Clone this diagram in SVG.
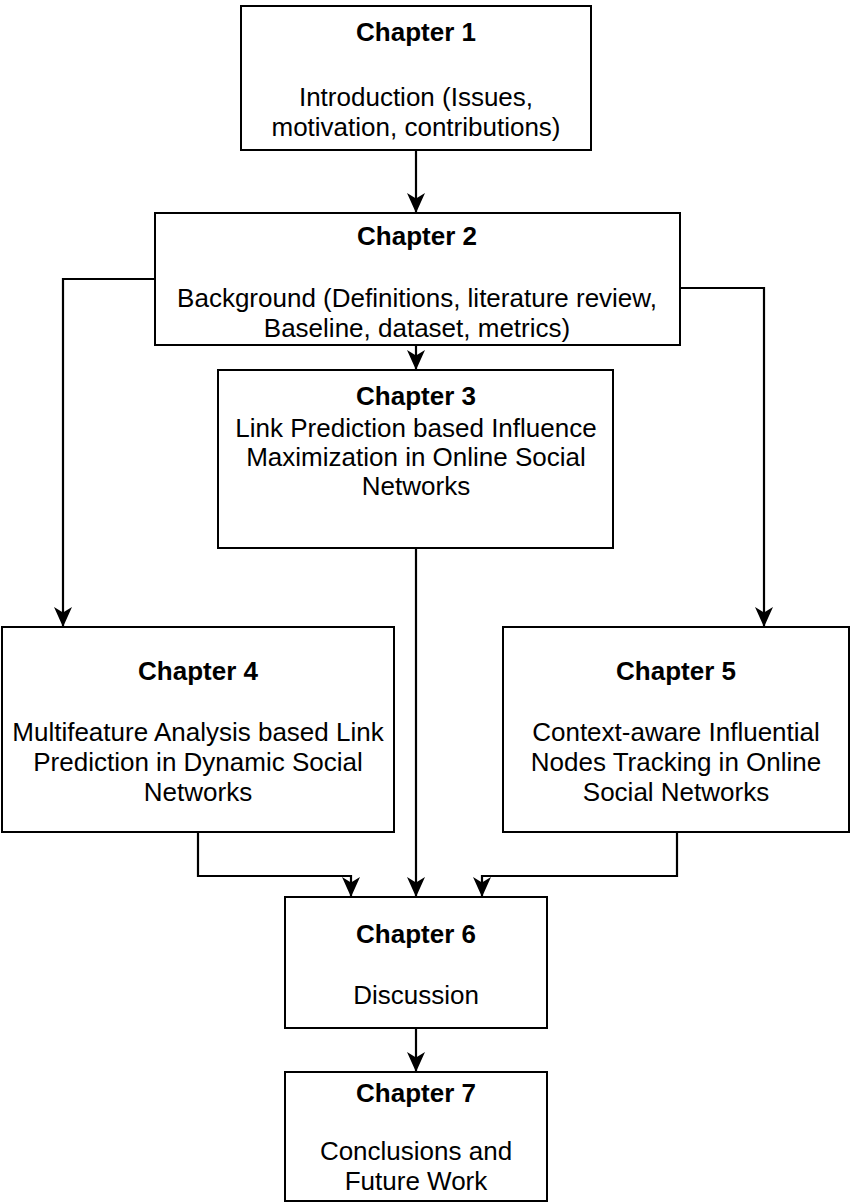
<svg xmlns="http://www.w3.org/2000/svg" width="850" height="1203" viewBox="0 0 850 1203">
<style>
.box{fill:#fff;stroke:#000;stroke-width:2}
.t{font-family:"Liberation Sans",Arial,sans-serif;font-size:26px;text-anchor:middle;fill:#000}
.b{font-weight:bold}
.c{fill:none;stroke:#000;stroke-width:2.2}
</style>
<defs>
<marker id="ah" markerUnits="userSpaceOnUse" markerWidth="20" markerHeight="20" viewBox="0 0 20 20" refX="20" refY="10" orient="auto">
<path d="M0,1 L20,10 L0,19 L5.5,10 z" fill="#000"/>
</marker>
</defs>
<rect width="850" height="1203" fill="#fff"/>
<g id="connectors">
<path class="c" d="M416,150 V213" marker-end="url(#ah)"/>
<path class="c" d="M416,345 V370" marker-end="url(#ah)"/>
<path class="c" d="M155,279 H63 V627" marker-end="url(#ah)"/>
<path class="c" d="M680,288 H764 V627" marker-end="url(#ah)"/>
<path class="c" d="M416,548 V897" marker-end="url(#ah)"/>
<path class="c" d="M198,832 V876 H351 V897" marker-end="url(#ah)"/>
<path class="c" d="M677,832 V876 H482 V897" marker-end="url(#ah)"/>
<path class="c" d="M416,1028 V1072" marker-end="url(#ah)"/>
</g>
<g id="ch1">
<rect class="box" x="241" y="6" width="350" height="144"/>
<text class="t b" x="416" y="41">Chapter 1</text>
<text class="t" x="416" y="106">Introduction (Issues,</text>
<text class="t" x="416" y="136">motivation, contributions)</text>
</g>
<g id="ch2">
<rect class="box" x="155" y="213" width="525" height="132"/>
<text class="t b" x="417" y="245">Chapter 2</text>
<text class="t" x="417" y="307">Background (Definitions, literature review,</text>
<text class="t" x="417" y="337">Baseline, dataset, metrics)</text>
</g>
<g id="ch3">
<rect class="box" x="218" y="370" width="395" height="178"/>
<text class="t b" x="416" y="405">Chapter 3</text>
<text class="t" x="416" y="437">Link Prediction based Influence</text>
<text class="t" x="416" y="466">Maximization in Online Social</text>
<text class="t" x="416" y="495">Networks</text>
</g>
<g id="ch4">
<rect class="box" x="2" y="627" width="392" height="205"/>
<text class="t b" x="198" y="680">Chapter 4</text>
<text class="t" x="198" y="741">Multifeature Analysis based Link</text>
<text class="t" x="198" y="771">Prediction in Dynamic Social</text>
<text class="t" x="198" y="801">Networks</text>
</g>
<g id="ch5">
<rect class="box" x="503" y="627" width="346" height="205"/>
<text class="t b" x="676" y="680">Chapter 5</text>
<text class="t" x="676" y="741">Context-aware Influential</text>
<text class="t" x="676" y="771">Nodes Tracking in Online</text>
<text class="t" x="676" y="801">Social Networks</text>
</g>
<g id="ch6">
<rect class="box" x="285" y="897" width="262" height="131"/>
<text class="t b" x="416" y="943">Chapter 6</text>
<text class="t" x="416" y="1004">Discussion</text>
</g>
<g id="ch7">
<rect class="box" x="285" y="1072" width="262" height="129"/>
<text class="t b" x="416" y="1102">Chapter 7</text>
<text class="t" x="416" y="1160">Conclusions and</text>
<text class="t" x="416" y="1190">Future Work</text>
</g>
</svg>
